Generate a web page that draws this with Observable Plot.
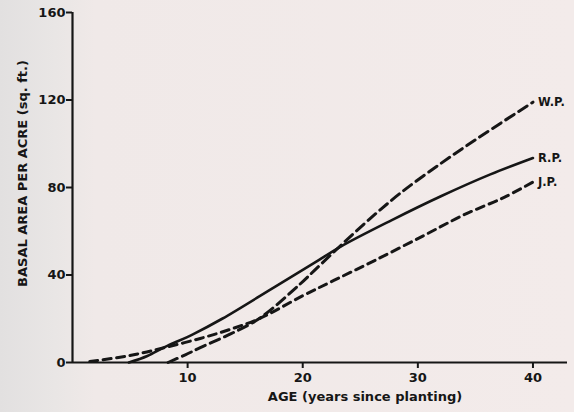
<!DOCTYPE html>
<html><head><meta charset="utf-8">
<script src="https://cdn.jsdelivr.net/npm/d3@7"></script>
<script src="https://cdn.jsdelivr.net/npm/@observablehq/plot@0.6"></script>
<style>
html,body{margin:0;padding:0;}
body{width:574px;height:412px;overflow:hidden;background:linear-gradient(90deg,#e2e0e0 0px,#e9e6e5 55px,#f0e9e8 95px,#f3ebea 100%);}
</style></head><body><div id="chart"></div>
<script>
// Series: age (years since planting) and basal area per acre (sq. ft.)
const ageRP = [4.9, 6.5, 8, 10.5, 13, 17.4, 21, 23.3, 27.7, 32, 36.3, 40];
const valRP = [0, 3, 7, 13, 20, 34, 45.5, 53, 65, 76, 86, 93.5];
const ageWP = [8.3, 9.8, 11.1, 13.5, 16.2, 19.8, 21, 23.3, 25.9, 28.5, 32, 35.2, 40];
const valWP = [0, 3.5, 6.8, 12.5, 20, 36, 42, 53.5, 66, 77.5, 91, 102.5, 119];
const ageJP = [1.5, 4, 6, 8, 11.1, 13.6, 16.2, 20, 22.7, 26.2, 30.5, 34, 37.5, 40];
const valJP = [0.5, 2.3, 4.3, 6.8, 11, 15, 20, 30.5, 37.5, 46.5, 58, 67.5, 75.5, 82.5];
const seriesNames = ["W.P.", "R.P.", "J.P."];
const xTicks = [10, 20, 30, 40];
const yTicks = [0, 40, 80, 120, 160];
const xLabel = "AGE (years since planting)";
const yLabel = "BASAL AREA PER ACRE (sq. ft.)";

const toRows = (name, ages, vals) => ages.map((a, i) => ({series: name, age: a, value: vals[i]}));
const rowsWP = toRows(seriesNames[0], ageWP, valWP);
const rowsRP = toRows(seriesNames[1], ageRP, valRP);
const rowsJP = toRows(seriesNames[2], ageJP, valJP);
const ends = [rowsWP, rowsRP, rowsJP].map(r => r[r.length - 1]);

const ink = "#161616";
const chart = Plot.plot({
  width: 574, height: 412,
  marginLeft: 72, marginRight: 7, marginTop: 12, marginBottom: 50,
  style: {background: "transparent", fontFamily: "'DejaVu Sans', sans-serif", fontWeight: "bold", fontSize: "13px", color: ink},
  x: {domain: [0, 43]},
  y: {domain: [0, 160]},
  marks: [
    Plot.axisY({ticks: yTicks, tickSize: 6, tickPadding: 1, label: null, strokeWidth: 2, fontSize: 13}),
    Plot.axisX({ticks: xTicks, tickSize: 6, tickPadding: 4, label: null, strokeWidth: 2, fontSize: 13}),
    Plot.ruleX([0], {stroke: ink, strokeWidth: 2.2}),
    Plot.ruleY([0], {stroke: ink, strokeWidth: 2.2}),
    Plot.line(rowsRP, {x: "age", y: "value", stroke: ink, strokeWidth: 2.6, curve: "catmull-rom"}),
    Plot.line(rowsWP, {x: "age", y: "value", stroke: ink, strokeWidth: 3, strokeDasharray: "10,5.5", curve: "catmull-rom"}),
    Plot.line(rowsJP, {x: "age", y: "value", stroke: ink, strokeWidth: 3, strokeDasharray: "8,5.5", curve: "catmull-rom"}),
    Plot.text(ends, {x: "age", y: "value", text: "series", dx: 5, textAnchor: "start", fontSize: 11.5, fontWeight: "bold", fill: ink, style: "letter-spacing:-0.8px"}),
    Plot.text([xLabel], {frameAnchor: "bottom", dx: 45, dy: 38, fontSize: 13, fontWeight: "bold", fill: ink, style: "letter-spacing:0.4px"}),
    Plot.text([yLabel], {frameAnchor: "left", textAnchor: "middle", dx: -50, dy: -14, rotate: -90, fontSize: 13, fontWeight: "bold", fill: ink, style: "letter-spacing:1.5px"})
  ]
});
document.getElementById("chart").appendChild(chart);
</script></body></html>
